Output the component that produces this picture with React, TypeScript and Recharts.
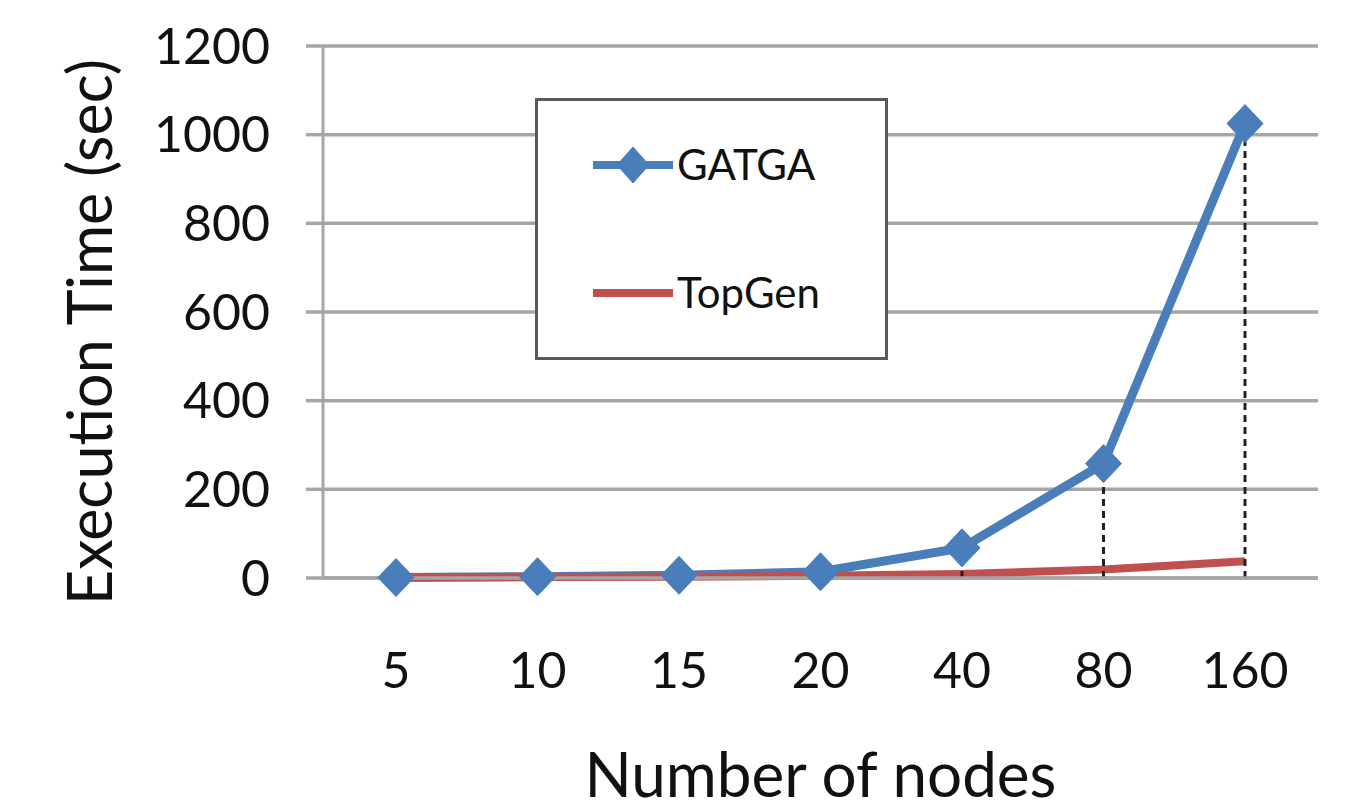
import {
  LineChart,
  Line,
  XAxis,
  YAxis,
  CartesianGrid,
  Legend,
  ReferenceLine,
} from "recharts";

const nodeCounts = ["5", "10", "15", "20", "40", "80", "160"];
const gatgaTimes = [1, 3, 6, 14, 68, 258, 1025];
const topgenTimes = [1, 2, 3, 5, 9, 19, 38];
const yTicks = [0, 200, 400, 600, 800, 1000, 1200];

const data = nodeCounts.map((n, i) => ({
  nodes: n,
  GATGA: gatgaTimes[i],
  TopGen: topgenTimes[i],
}));

const BLUE = "#4A7EBB";
const RED = "#C0504D";
const GRID = "#A6A6A6";
const FONT = "Lato, 'Open Sans', sans-serif";

const Diamond = ({ cx, cy, w = 18, h = 19 }: any) => {
  if (cx == null || cy == null) return null;
  return (
    <polygon
      points={`${cx},${cy - h} ${cx + w},${cy} ${cx},${cy + h} ${cx - w},${cy}`}
      fill={BLUE}
      stroke={BLUE}
      strokeWidth={1}
    />
  );
};

const LegendBox = () => (
  <div
    style={{
      width: 353,
      height: 262,
      boxSizing: "border-box",
      border: "3px solid #595959",
      background: "#fff",
      fontFamily: FONT,
      fontSize: 42,
      color: "#111",
      position: "relative",
    }}
  >
    <svg
      width={100}
      height={262}
      style={{ position: "absolute", left: 50, top: -3 }}
    >
      <line x1={5} y1={67} x2={85} y2={67} stroke={BLUE} strokeWidth={8} />
      <Diamond cx={45} cy={67} w={16} h={18} />
      <line x1={5} y1={195} x2={85} y2={195} stroke={RED} strokeWidth={8} />
    </svg>
    <div style={{ position: "absolute", left: 139, top: 38, lineHeight: "50px" }}>
      GATGA
    </div>
    <div style={{ position: "absolute", left: 139, top: 166, lineHeight: "50px" }}>
      TopGen
    </div>
  </div>
);

const YTitle = ({ viewBox }: any) => {
  const cy = viewBox.y + viewBox.height / 2 + 20;
  return (
    <text
      x={112}
      y={cy}
      transform={`rotate(-90, 112, ${cy})`}
      textAnchor="middle"
      fontFamily={FONT}
      fontSize={61}
      fill="#111"
    >
      Execution Time (sec)
    </text>
  );
};

export default function App() {
  return (
    <div
      style={{
        position: "absolute",
        left: 0,
        top: 0,
        width: 1355,
        height: 812,
        background: "#fff",
      }}
    >
      <LineChart
        width={1355}
        height={812}
        data={data}
        margin={{ top: 46, right: 37, bottom: 0, left: 0 }}
      >
        <CartesianGrid
          vertical={false}
          stroke={GRID}
          strokeWidth={3.5}
          horizontalValues={yTicks}
        />
        <XAxis
          dataKey="nodes"
          height={234}
          padding={{ left: 73, right: 73 }}
          axisLine={{ stroke: GRID, strokeWidth: 3.5 }}
          tickLine={false}
          tickSize={0}
          tickMargin={74}
          tick={{ fontSize: 50, fill: "#111", fontFamily: FONT }}
          label={{
            value: "Number of nodes",
            position: "insideBottom",
            offset: 15,
            fontSize: 62,
            fill: "#111",
            fontFamily: FONT,
          }}
        />
        <YAxis
          width={323}
          domain={[0, 1200]}
          ticks={yTicks}
          interval={0}
          axisLine={{ stroke: GRID, strokeWidth: 3 }}
          tickLine={{ stroke: GRID, strokeWidth: 3.5 }}
          tickSize={17}
          tickMargin={36}
          tick={{ fontSize: 50, fill: "#111", fontFamily: FONT }}
          label={<YTitle />}
        />
        <Line
          dataKey="GATGA"
          stroke={BLUE}
          strokeWidth={9}
          dot={<Diamond />}
          activeDot={false}
          isAnimationActive={false}
        />
        <Line
          dataKey="TopGen"
          stroke={RED}
          strokeWidth={8}
          dot={false}
          activeDot={false}
          isAnimationActive={false}
        />
        {data.map((d) => (
          <ReferenceLine
            key={d.nodes}
            segment={[
              { x: d.nodes, y: 0 },
              { x: d.nodes, y: d.GATGA },
            ]}
            stroke="#222"
            strokeWidth={3}
            strokeDasharray="7 5"
          />
        ))}
        <Legend
          layout="vertical"
          align="center"
          verticalAlign="middle"
          content={<LegendBox />}
          wrapperStyle={{ position: "absolute", left: 535, top: 98, width: 353, height: 262 }}
        />
      </LineChart>
    </div>
  );
}
